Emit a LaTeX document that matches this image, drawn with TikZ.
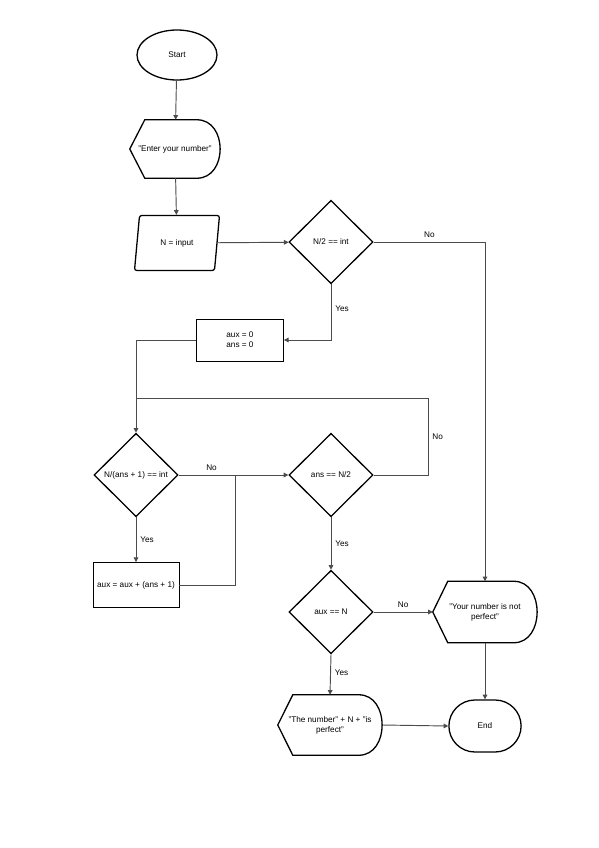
\documentclass[tikz,border=0pt]{standalone}
\usepackage{fontspec}
\setmainfont{Liberation Sans}
\usetikzlibrary{shapes}
\usetikzlibrary{shapes.geometric}
\usetikzlibrary{shapes.misc}
\usetikzlibrary{positioning}
\usetikzlibrary{arrows.meta}
\tikzset{
    shapeline/.style = {line width=1.1pt,draw=black},
    terminal/.style = {ellipse, shapeline, minimum width=2.4cm, minimum height=1.5cm, align=center},
    endbox/.style = {rounded rectangle, shapeline, minimum width=2.4cm, minimum height=1.56cm, align=center},
    process/.style = {rectangle, draw=black, line width=0.7pt, align=center},
    decision/.style = {diamond, shapeline, minimum width=2.52cm, minimum height=2.5cm, inner sep=0pt, align=center},
    iobox/.style = {trapezium, trapezium left angle=72, trapezium right angle=108, trapezium stretches body,
                    shapeline, rounded corners=2pt, minimum width=2.55cm, minimum height=1.65cm, align=center},
    dispbox/.style = {rectangle, draw=none, align=center},
    edgen/.style = {-{Triangle[length=4pt,width=4pt]},line width=0.8pt,black!70,text=black},
    edgep/.style = {line width=0.8pt,black!70,text=black}, % plain
    every node/.style = {font=\fontsize{7}{8.5}\selectfont}
}
\begin{document}
\begin{tikzpicture}[x=0.03cm,y=-0.03cm]
%
\path[use as bounding box] (0,0) rectangle (599,848);
%
\node[terminal] at (177,55) (start) {Start};
\node[dispbox,minimum width=2.7cm,minimum height=1.74cm] at (175,149) (enter) {"Enter your number"};
\node[iobox] at (177,243) (inp) {N = input};
\node[decision] at (331,242) (half) {N/2 == int};
\node[process,minimum width=2.61cm,minimum height=1.26cm] at (240,340) (init) {aux = 0\\ans = 0};
\node[decision] at (136,475) (divd) {\makebox[0pt]{N/(ans + 1) == int}};
\node[decision] at (331,475) (check) {ans == N/2};
\node[process,minimum width=2.58cm,minimum height=1.35cm] at (136,585) (upd) {\makebox[0pt]{aux = aux + (ans + 1)}};
\node[decision] at (331,612) (eq) {aux == N};
\node[dispbox,minimum width=3.12cm,minimum height=1.83cm] at (485,612) (notp) {"Your number is not\\perfect"};
\node[dispbox,minimum width=3.12cm,minimum height=1.8cm] at (330,725) (perf) {"The number" + N + "is\\perfect"};
\node[endbox] at (485,726) (stop) {End};
%
\coordinate (jn) at (235,475);
\coordinate (lp) at (428,398);
\coordinate (back) at (136,398);
%
\foreach \n in {enter,notp,perf}
  \draw[shapeline] (\n.west) -- ([xshift=0.45cm]\n.north west) -- ([xshift=-0.7cm]\n.north east)
    .. controls ([xshift=0.23cm]\n.north east) and ([xshift=0.23cm]\n.south east) .. ([xshift=-0.7cm]\n.south east)
    -- ([xshift=0.45cm]\n.south west) -- cycle;
%
\draw[edgen] (start) -- (enter);
\draw[edgen] (enter) -- (inp);
\draw[edgen] (inp) -- (half);
\draw[edgen] (half.east) -| node[above,pos=0.25] {No} (notp.north);
\draw[edgen] (half.south) |- node[right,pos=0.22] {Yes} (init.east);
\draw[edgen] (init.west) -| (divd.north);
\draw[edgep] (check.east) -| node[right,pos=0.75] {No} (lp) -- (back);
\draw[edgen] (divd.east) -- node[above,pos=0.3] {No} (check.west);
\draw[edgen] (divd.south) -- node[right] {Yes} (upd.north);
\draw[edgep] (upd.east) -| (jn);
\draw[edgen] (check.south) -- node[right] {Yes} (eq.north);
\draw[edgen] (eq.east) -- node[above] {No} (notp.west);
\draw[edgen] (eq.south) -- node[right,pos=0.45] {Yes} (perf.north);
\draw[edgen] (notp.south) -- (stop.north);
\draw[edgen] (perf.east) -- (stop.west);

\end{tikzpicture}
\end{document}
